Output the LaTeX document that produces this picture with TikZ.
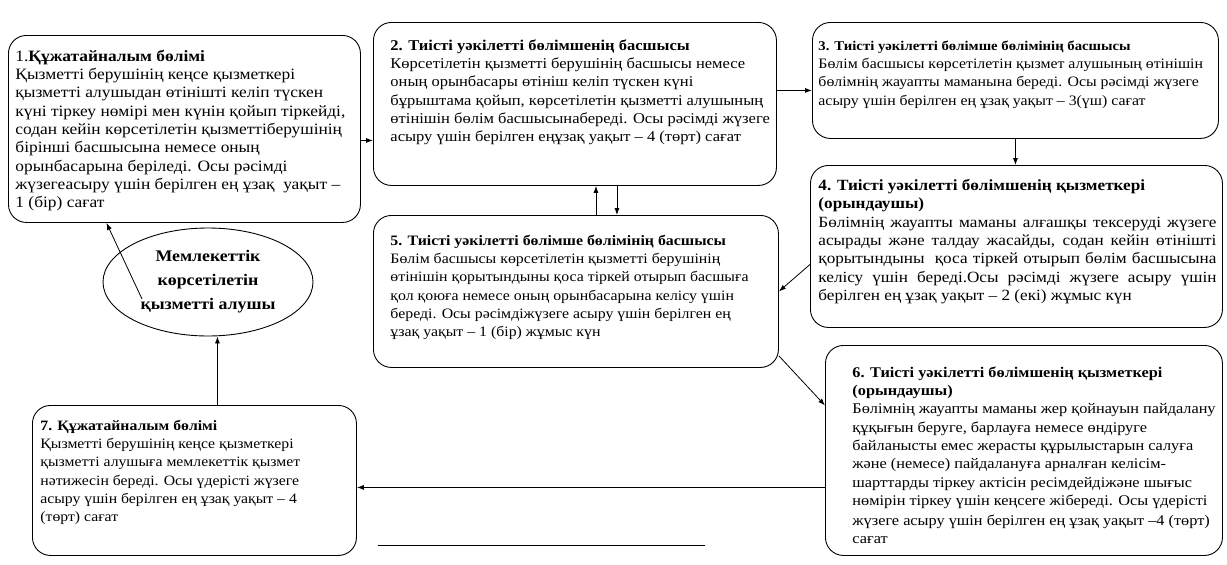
\documentclass[tikz,border=0pt]{standalone}
\usepackage{fontspec}
\setmainfont[FakeStretch=1.1]{Liberation Serif}
\usetikzlibrary{arrows.meta,shapes.geometric}
% text block of a card: height, width, top gap, left gap, lines
\newcommand{\cardtext}[5]{\parbox[c][#1][t]{#2}{\vspace*{#3}\hspace*{#4}%
  \begin{tabular}[t]{@{}l@{}}#5\end{tabular}}}

\begin{document}
\begin{tikzpicture}[x=1pt,y=-1pt,line width=0.8pt,>={Latex[length=7pt,width=5pt]},
  card/.style={draw,line width=0.9pt,rounded corners=18pt,anchor=north west,
    inner xsep=6pt,inner ysep=6pt},
  client/.style={draw,line width=0.9pt,ellipse,minimum width=210pt,minimum height=108pt,
    align=center,inner sep=0pt,font=\bfseries\fontsize{16.2}{24}\selectfont}]
  \useasboundingbox (0,0) rectangle (1227,565);
  % boxes
  \node[card,font=\fontsize{15.8}{18.3}\selectfont] (b1) at (8,35) {\cardtext{175pt}{340pt}{7pt}{1pt}{%
    1.\textbf{Құжатайналым бөлімі}\\
    Қызметті берушінің кеңсе қызметкері\\
    қызметті алушыдан өтінішті келіп түскен\\
    күні тіркеу нөмірі мен күнін қойып тіркейді,\\
    содан кейін көрсетілетін қызметтіберушінің\\
    бірінші басшысына немесе оның\\
    орынбасарына беріледі. Осы рәсімді\\
    жүзегеасыру үшін берілген ең ұзақ\ \ уақыт –\\
    1 (бір) сағат}};
  \node[card,font=\fontsize{15.0}{18.3}\selectfont] (b2) at (373,22) {\cardtext{151pt}{391pt}{9pt}{11pt}{%
    \textbf{2. Тиісті уәкілетті бөлімшенің басшысы}\\
    Көрсетілетін қызметті берушінің басшысы немесе\\
    оның орынбасары өтініш келіп түскен күні\\
    бұрыштама қойып, көрсетілетін қызметті алушының\\
    өтінішін бөлім басшысынабереді. Осы рәсімді жүзеге\\
    асыру үшін берілген еңұзақ уақыт – 4 (төрт) сағат}};
  \node[card,font=\fontsize{14.4}{18.3}\selectfont] (b3) at (812,22) {\cardtext{104pt}{394pt}{9pt}{0pt}{%
    {\fontsize{13.4}{18.3}\selectfont\bfseries 3. Тиісті уәкілетті бөлімше бөлімінің басшысы}\\
    Бөлім басшысы көрсетілетін қызмет алушының өтінішін\\
    бөлімнің жауапты маманына береді. Осы рәсімді жүзеге\\
    асыру үшін берілген ең ұзақ уақыт – 3(үш) сағат}};
  \node[card,font=\fontsize{15.6}{18.3}\selectfont] (b4) at (810,165) {\hspace*{2pt}\parbox[c][150pt][t]{398pt}{\vspace*{8pt}
    \textbf{4. Тиісті уәкілетті бөлімшенің қызметкері}\\
    \textbf{(орындаушы)}\\
    Бөлімнің жауапты маманы алғашқы тексеруді жүзеге\linebreak
    асырады және талдау жасайды, содан кейін өтінішті\linebreak
    қорытындыны\ \ қоса тіркей отырып бөлім басшысына\linebreak
    келісу үшін береді.Осы рәсімді жүзеге асыру үшін\linebreak
    берілген ең ұзақ уақыт – 2 (екі) жұмыс күн}};
  \node[card,font=\fontsize{14.4}{18.3}\selectfont] (b5) at (373,215) {\cardtext{140pt}{393pt}{11pt}{11pt}{%
    \textbf{5. Тиісті уәкілетті бөлімше бөлімінің басшысы}\\
    Бөлім басшысы көрсетілетін қызметті берушінің\\
    өтінішін қорытындыны қоса тіркей отырып басшыға\\
    қол қоюға немесе оның орынбасарына келісу үшін\\
    береді. Осы рәсімдіжүзеге асыру үшін берілген ең\\
    ұзақ уақыт – 1 (бір) жұмыс күн}};
  \node[card,font=\fontsize{14.8}{18.3}\selectfont] (b6) at (825,345) {\cardtext{198pt}{385pt}{13pt}{21pt}{%
    \textbf{6. Тиісті уәкілетті бөлімшенің қызметкері}\\
    \textbf{(орындаушы)}\\
    Бөлімнің жауапты маманы жер қойнауын пайдалану\\
    құқығын беруге, барлауға немесе өндіруге\\
    байланысты емес жерасты құрылыстарын салуға\\
    және (немесе) пайдалануға арналған келісім-\\
    шарттарды тіркеу актісін ресімдейдіжәне шығыс\\
    нөмірін тіркеу үшін кеңсеге жібереді. Осы үдерісті\\[2pt]
    жүзеге асыру үшін берілген ең ұзақ уақыт –4 (төрт)\\
    сағат}};
  \node[card,font=\fontsize{14.3}{18.3}\selectfont] (b7) at (32,405) {\cardtext{138pt}{312pt}{6pt}{2pt}{%
    \textbf{7. Құжатайналым бөлімі}\\
    Қызметті берушінің кеңсе қызметкері\\
    қызметті алушыға мемлекеттік қызмет\\
    нәтижесін береді. Осы үдерісті жүзеге\\
    асыру үшін берілген ең ұзақ уақыт – 4\\
    (төрт) сағат}};
  \node[client] (ell) at (208,282) {Мемлекеттік\\көрсетілетін\\қызметті алушы};
  % connectors
  \coordinate (e1) at (142,299);
  \draw[->] ([yshift=-11.5pt]b1.east) -- ([yshift=-11.5pt]b1.east -| b2.west);
  \draw[->] ([yshift=13.5pt]b2.east) -- ([yshift=13.5pt]b2.east -| b3.west);
  \draw[->] (b3.south) -- (b3.south |- b4.north);
  \draw[->] ([yshift=-18pt]b4.west) -- (b5.east);
  \draw[->] ([xshift=20pt]b5.north) -- ([xshift=20pt]b5.north |- b2.south);
  \draw[->] ([xshift=42pt]b2.south) -- ([xshift=42pt]b2.south |- b5.north);
  \draw[->] ([yshift=12pt]b5.south east) -- ([yshift=45pt]b6.west);
  \draw[->] ([yshift=-37pt]b6.west) -- ([yshift=-37pt]b6.west -| b7.east);
  \draw[->] ([xshift=23pt]b7.north) -- ([xshift=23pt]b7.north |- ell.south);
  \draw[->] (e1) -- ([xshift=-78pt]b1.south);
  % line at the bottom
  \coordinate (l1) at (378,545);
  \coordinate (l2) at (705,545);
  \draw (l1) -- (l2);
\end{tikzpicture}
\end{document}
